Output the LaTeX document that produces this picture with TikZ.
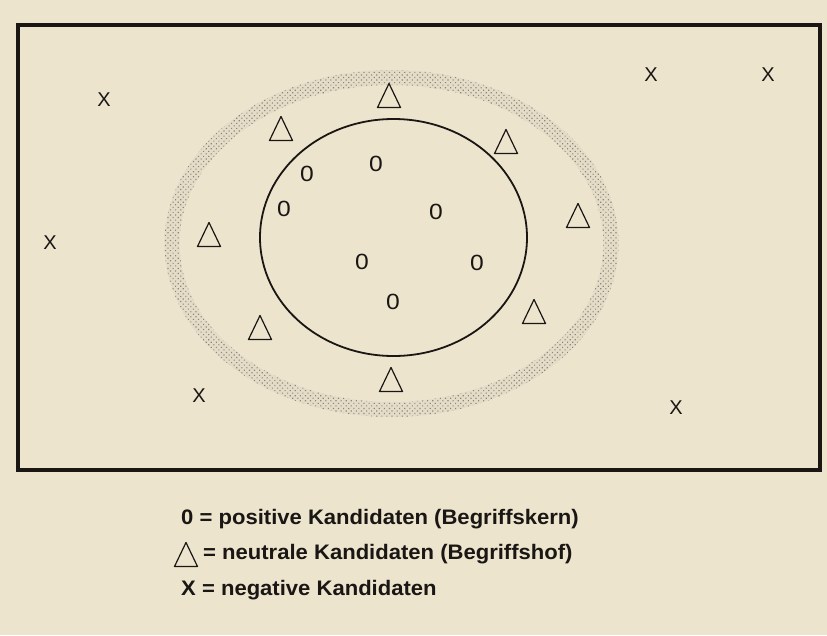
\documentclass[tikz,border=0pt]{standalone}
\usepackage{fontspec}
\setmainfont{Liberation Sans}
\usetikzlibrary{patterns.meta}
\definecolor{paper}{RGB}{237,228,206}
\definecolor{ring}{RGB}{228,220,199}
\definecolor{dotc}{RGB}{140,134,122}
\definecolor{ink}{RGB}{25,22,20}
\begin{document}
\begin{tikzpicture}[x=1pt,y=-1pt,
  poscand/.style={font=\fontsize{22}{22}\selectfont, text=ink, inner sep=0pt, xscale=1.12},
  negcand/.style={font=\fontsize{20}{20}\selectfont, text=ink, inner sep=0pt},
  legendtext/.style={font=\bfseries\fontsize{21}{21}\selectfont, text=ink, anchor=base west, inner sep=0pt, xscale=1.05},
  tri/.pic={\draw[ink, line width=1.2pt, line join=round] (-11.5pt,-11.5pt) -- (11.5pt,-11.5pt) -- (0pt,12.5pt) -- cycle;}
]
\fill[paper] (0,0) rectangle (827,635);
\useasboundingbox (0,0) rectangle (827,635);
% outer frame
\draw[ink, line width=4pt] (18,25) rectangle (820,470);
% halo ring (Begriffshof)
\fill[ring, even odd rule] (391.5,243.5) ellipse [x radius=227, y radius=173.5]
  (391.5,243.5) ellipse [x radius=212, y radius=158.5];
\fill[pattern={Dots[distance=3.6pt, radius=0.8pt, angle=45]}, pattern color=dotc, even odd rule] (391.5,243.5) ellipse [x radius=227, y radius=173.5]
  (391.5,243.5) ellipse [x radius=212, y radius=158.5];
% core (Begriffskern)
\draw[ink, line width=1.8pt] (393.5,237.5) ellipse [x radius=133.5, y radius=118.5];
% positive candidates
\node[poscand] (p1) at (376,164) {0};
\node[poscand] (p2) at (307,174) {0};
\node[poscand] (p3) at (284,209) {0};
\node[poscand] (p4) at (436,212) {0};
\node[poscand] (p5) at (362,262) {0};
\node[poscand] (p6) at (477,263) {0};
\node[poscand] (p7) at (393,302) {0};
% neutral candidates
\pic (t1) at (389,96) {tri};
\pic (t2) at (281,129) {tri};
\pic (t3) at (506,142) {tri};
\pic (t4) at (578,216) {tri};
\pic (t5) at (209,235) {tri};
\pic (t6) at (260,328) {tri};
\pic (t7) at (534,312) {tri};
\pic (t8) at (391,380) {tri};
% negative candidates
\node[negcand] (n1) at (104,100) {X};
\node[negcand] (n2) at (651,75) {X};
\node[negcand] (n3) at (768,75) {X};
\node[negcand] (n4) at (50,243) {X};
\node[negcand] (n5) at (199,396) {X};
\node[negcand] (n6) at (676,408) {X};
% legend
\node[legendtext] (l1) at (181,524) {0 = positive Kandidaten (Begriffskern)};
\pic (lt) at (186,555) {tri};
\node[legendtext] (l2) at (203,559) {= neutrale Kandidaten (Begriffshof)};
\node[legendtext] (l3) at (181,595) {X = negative Kandidaten};
\end{tikzpicture}
\end{document}
